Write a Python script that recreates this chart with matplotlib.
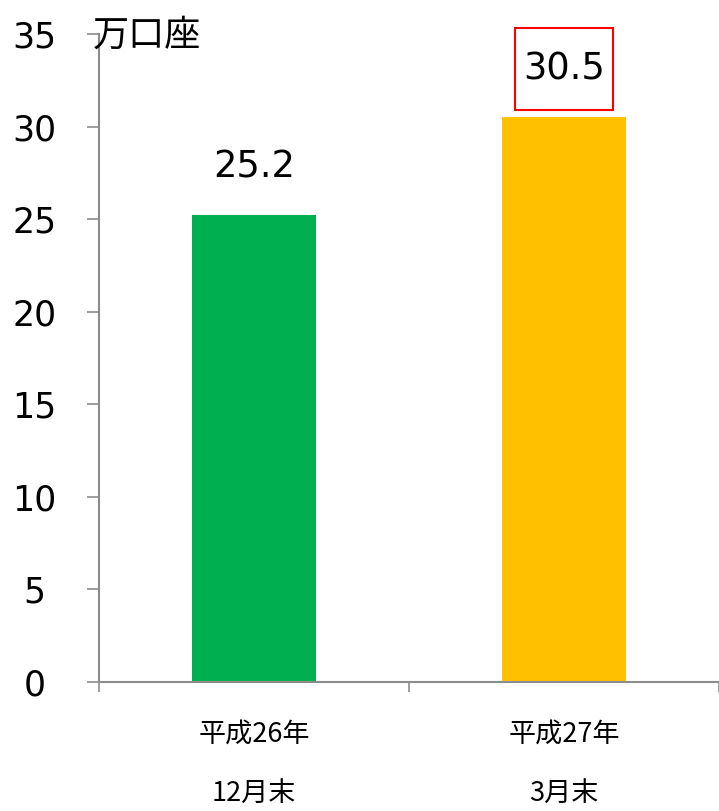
import matplotlib
matplotlib.use("Agg")
import matplotlib.pyplot as plt
import matplotlib.transforms as mtransforms
from matplotlib.patches import Rectangle

# data
periods_line1 = ["平成26年", "平成27年"]
periods_line2 = ["12月末", "3月末"]
accounts = [25.2, 30.5]
bar_colors = ["#00B050", "#FFC000"]
unit_label = "万口座"
y_ticks = [0, 5, 10, 15, 20, 25, 30, 35]

plt.rcParams['font.family'] = ['DejaVu Sans', 'Noto Sans CJK JP']
axis_gray = "#8c8c8c"

fig = plt.figure(figsize=(7.19, 8.11), dpi=100)
ax = fig.add_axes([99 / 719, 1 - 682 / 811, 1 - 99 / 719, (682 - 34) / 811])

x = list(range(len(accounts)))
ax.bar(x, accounts, width=0.4, color=bar_colors)

ax.set_xlim(-0.5, len(accounts) - 0.5)
ax.set_ylim(0, 35)

# y axis
ax.set_yticks(y_ticks)
ax.tick_params(axis='y', direction='out', length=8.6, width=1.2,
               color=axis_gray, labelsize=25, pad=38)
for lab in ax.get_yticklabels():
    lab.set_horizontalalignment('center')

# x axis: ticks at category boundaries, labels drawn as text
ax.set_xticks([i - 0.5 for i in range(len(accounts) + 1)])
ax.set_xticklabels([])
ax.tick_params(axis='x', direction='out', length=7, width=1.2, color=axis_gray)

for side in ['top', 'right']:
    ax.spines[side].set_visible(False)
for side in ['left', 'bottom']:
    ax.spines[side].set_color(axis_gray)
    ax.spines[side].set_linewidth(1.5)

trans = mtransforms.blended_transform_factory(ax.transData, ax.transAxes)
for i in x:
    ax.text(i, -0.080, periods_line1[i], transform=trans, ha='center', va='center',
            fontsize=19.5, family='Noto Sans CJK JP')
    ax.text(i, -0.174, periods_line2[i], transform=trans, ha='center', va='center',
            fontsize=19.5, family='Noto Sans CJK JP')

# value labels
for i, v in enumerate(accounts):
    ax.annotate(f"{v}", (i, v), xytext=(0, 35), textcoords='offset points',
                ha='center', va='center', fontsize=26.5)

# red box around the latest value
last = len(accounts) - 1
ax.add_patch(Rectangle((last - 0.159, accounts[last] + 0.4), 0.318, 4.4,
                       fill=False, edgecolor='#ff0000', linewidth=1.5,
                       clip_on=False))

fig.text(93 / 719, 1 - 36 / 811, unit_label, ha='left', va='center',
         fontsize=26, family='Noto Sans CJK JP')

fig.savefig("out.png", dpi=100)
